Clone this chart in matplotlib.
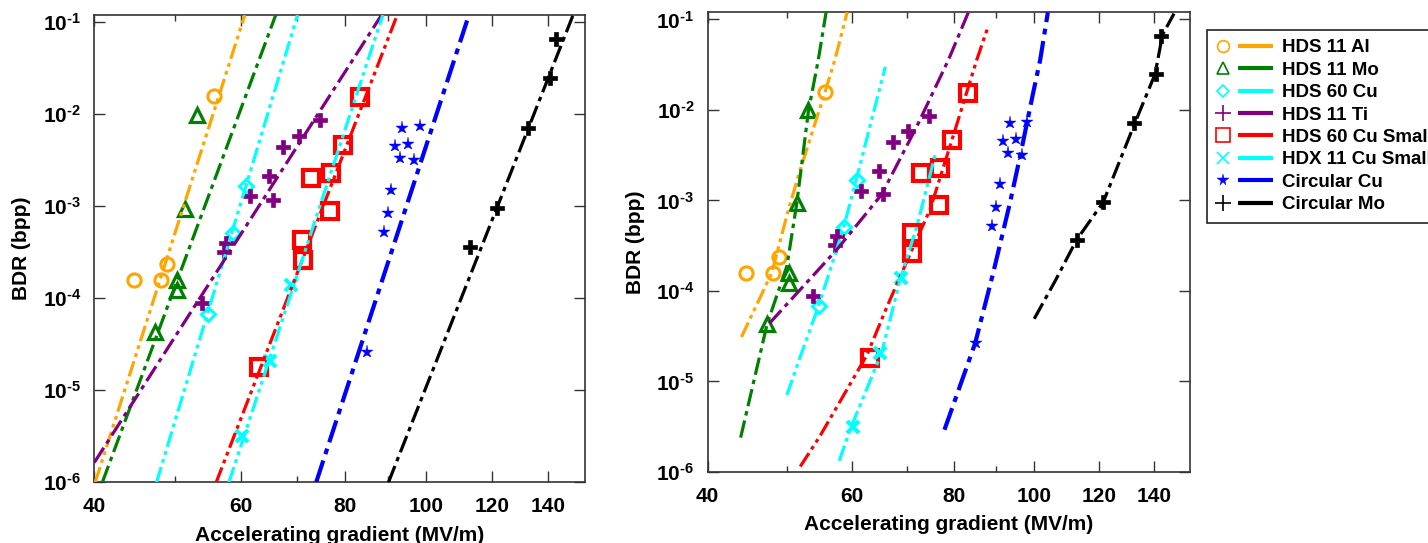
import numpy as np
import matplotlib
matplotlib.use('Agg')
import matplotlib.pyplot as plt
from matplotlib.lines import Line2D
from matplotlib.legend_handler import HandlerBase
from matplotlib.ticker import FixedLocator, FuncFormatter, NullFormatter, NullLocator

plt.rcParams['font.family'] = ['Liberation Sans', 'DejaVu Sans']
plt.rcParams['font.weight'] = 'bold'
plt.rcParams['mathtext.fontset'] = 'custom'
plt.rcParams['mathtext.bf'] = 'Liberation Sans:bold'
plt.rcParams['mathtext.rm'] = 'Liberation Sans:bold'

# ---------------- data ----------------
labels = ['HDS 11 Al', 'HDS 11 Mo', 'HDS 60 Cu', 'HDS 11 Ti',
          'HDS 60 Cu Small', 'HDX 11 Cu Small', 'Circular Cu', 'Circular Mo']

al_x = [44.6, 48.1, 48.9, 55.7]
al_y = [1.58e-4, 1.58e-4, 2.37e-4, 1.59e-2]
mo11_x = [47.3, 50.3, 50.3, 51.4, 53.1]
mo11_y = [4.35e-5, 1.58e-4, 1.23e-4, 9.3e-4, 9.9e-3]
cu60_x = [54.7, 58.6, 60.8]
cu60_y = [6.8e-5, 5.1e-4, 1.67e-3]
ti_x = [53.8, 57.2, 57.6, 61.5, 64.7, 65.5, 67.3, 70.3, 74.5]
ti_y = [8.85e-5, 3.22e-4, 4.04e-4, 1.28e-3, 2.11e-3, 1.18e-3, 4.41e-3, 5.85e-3, 8.6e-3]
cu60s_x = [63.1, 71.0, 71.1, 72.8, 76.8, 76.6, 79.5, 83.2]
cu60s_y = [1.8e-5, 4.32e-4, 2.62e-4, 2.03e-3, 2.3e-3, 9.0e-4, 4.67e-3, 1.54e-2]
hdx_x = [60.1, 65.0, 68.8]
hdx_y = [3.15e-6, 2.08e-5, 1.4e-4]
circu_x = [84.9, 88.9, 89.9, 90.8, 91.8, 92.9, 93.6, 95.0, 96.8, 98.2]
circu_y = [2.63e-5, 5.2e-4, 8.4e-4, 1.51e-3, 4.55e-3, 3.35e-3, 7.1e-3, 4.8e-3, 3.15e-3, 7.4e-3]
cirmo_x = [112.8, 121.5, 132.5, 140.7, 142.9]
cirmo_y = [3.65e-4, 9.6e-4, 7.1e-3, 2.48e-2, 6.6e-2]

# left panel: straight fit lines (end points)
fitL_x = [[40.1, 60.6], [40.9, 66.0], [47.5, 70.1], [40.0, 88.4],
          [56.0, 92.3], [58.0, 88.7], [73.8, 112.5], [90.1, 150.0]]
fitL_y = [[1e-6, 0.12], [1e-6, 0.12], [1e-6, 0.12], [1.64e-6, 0.12],
          [1e-6, 0.12], [1e-6, 0.12], [1e-6, 0.12], [1e-6, 0.12]]

# right panel: curved fits
fitR_x = [
    [44.0, 47.9, 50.2, 51.9, 55.6, 57.2, 59.2],
    [43.9, 46.4, 47.3, 50.0, 51.4, 53.1, 54.6, 55.8],
    [50.0, 51.9, 54.6, 58.6, 60.8, 65.9],
    [47.6, 57.5, 65.2, 72.0, 78.7, 83.2],
    [51.9, 54.8, 62.6, 66.2, 71.3, 74.7, 79.8, 85.2, 88.0],
    [57.9, 59.8, 65.2, 68.7, 72.0, 75.8],
    [77.8, 84.8, 89.2, 93.5, 96.2, 99.8, 101.8, 104.0],
    [100.1, 106.2, 112.7, 121.5, 132.8, 140.5, 143.5, 148.2],
]
fitR_y = [
    [3.1e-5, 1.58e-4, 7.9e-4, 2.19e-3, 1.55e-2, 3.6e-2, 0.12],
    [2.4e-6, 2.06e-5, 4.35e-5, 1.9e-4, 9.4e-4, 9.7e-3, 3.6e-2, 0.12],
    [7.1e-6, 1.88e-5, 6.7e-5, 4.96e-4, 1.77e-3, 3.0e-2],
    [4.4e-5, 2.86e-4, 1.16e-3, 6.6e-3, 3.6e-2, 0.12],
    [1.15e-6, 2.46e-6, 1.97e-5, 6.7e-5, 3.1e-4, 7.9e-4, 5.3e-3, 3.6e-2, 8.5e-2],
    [1.33e-6, 3.07e-6, 2.06e-5, 1.33e-4, 5.2e-4, 3.2e-3],
    [2.93e-6, 2.65e-5, 1.58e-4, 9.4e-4, 3.08e-3, 1.55e-2, 3.6e-2, 0.12],
    [4.93e-5, 1.3e-4, 3.65e-4, 9.6e-4, 7.2e-3, 2.48e-2, 6.8e-2, 0.116],
]

xs = [al_x, mo11_x, cu60_x, ti_x, cu60s_x, hdx_x, circu_x, cirmo_x]
ys = [al_y, mo11_y, cu60_y, ti_y, cu60s_y, hdx_y, circu_y, cirmo_y]

x_major = [40, 60, 80, 100, 120, 140]
x_minor = [50, 70, 90]
y_major = [1e-6, 1e-5, 1e-4, 1e-3, 1e-2, 1e-1]

# ---------------- styles ----------------
colors = ['#FFA500', '#008000', '#00FFFF', '#800080', '#FF0000', '#00FFFF', '#0000FF', '#000000']
dd = (0, (5, 1.4, 1.2, 1.4, 1.2, 1.4))
da = (0, (5.5, 1.6, 1.4, 1.6))
lstyles = [dd, da, dd, da, dd, dd, da, da]
lwidths = [2.3, 2.3, 2.3, 2.3, 2.3, 2.3, 3.0, 2.3]
mk_data = [
    dict(marker='o', ms=9.5, mfc='none', mew=2.2),
    dict(marker='^', ms=9.5, mfc='none', mew=2.3),
    dict(marker='D', ms=7.0, mfc='none', mew=2.2),
    dict(marker='P', ms=10.0, mew=0.5),
    dict(marker='s', ms=11.0, mfc='none', mew=3.0),
    dict(marker='x', ms=9.0, mew=3.0),
    dict(marker='*', ms=9.5, mew=0.3),
    dict(marker='P', ms=10.0, mew=0.5),
]
mk_leg = [
    dict(marker='o', ms=8.5, mfc='none', mew=1.2),
    dict(marker='^', ms=8.5, mfc='none', mew=1.2),
    dict(marker='D', ms=6.5, mfc='none', mew=1.2),
    dict(marker='+', ms=11, mew=1.2),
    dict(marker='s', ms=9.5, mfc='none', mew=1.2),
    dict(marker='x', ms=8.5, mew=1.2),
    dict(marker='*', ms=8.5, mew=0.3),
    dict(marker='+', ms=11, mew=1.2),
]

fig = plt.figure(figsize=(14.28, 5.43), dpi=100)
axL = fig.add_axes([94.3 / 1428, 1 - 482.3 / 543, 490.7 / 1428, 467.3 / 543])
axR = fig.add_axes([707.5 / 1428, 1 - 472 / 543, 482.5 / 1428, 459.7 / 543])

HYPHEN = '\u2010'


def ylab(v, p):
    e = int(round(np.log10(v)))
    if e < 0:
        return '$\\mathbf{10^{' + HYPHEN + str(abs(e)) + '}}$'
    return '$\\mathbf{10^{' + str(e) + '}}$'


def style_axes(ax):
    ax.set_xscale('log')
    ax.set_yscale('log')
    ax.set_xlim(40, 155)
    ax.set_ylim(1e-6, 0.12)
    ax.xaxis.set_major_locator(FixedLocator(x_major))
    ax.xaxis.set_minor_locator(FixedLocator(x_minor))
    ax.xaxis.set_major_formatter(FuncFormatter(lambda v, p: f'{v:g}'))
    ax.xaxis.set_minor_formatter(NullFormatter())
    ax.yaxis.set_major_locator(FixedLocator(y_major))
    ax.yaxis.set_minor_locator(NullLocator())
    ax.yaxis.set_major_formatter(FuncFormatter(ylab))
    ax.tick_params(which='both', direction='in', top=True, right=True,
                   width=1.0, color='#333333', labelsize=15)
    ax.tick_params(which='major', length=7.7)
    ax.tick_params(which='minor', length=4.1)
    ax.tick_params(axis='x', pad=10.5)
    ax.tick_params(axis='y', pad=9.5)
    for s in ax.spines.values():
        s.set_color('#333333')
        s.set_linewidth(1.2)
    ax.set_xlabel('Accelerating gradient (MV/m)', fontsize=15, fontweight='bold')
    ax.set_ylabel('BDR (bpp)', fontsize=15, fontweight='bold')
    ax.xaxis.set_label_coords(0.5, -0.0935)
    ax.yaxis.set_label_coords(-0.1296, 0.5)


for ax, fx, fy in [(axL, fitL_x, fitL_y), (axR, fitR_x, fitR_y)]:
    style_axes(ax)
    for i in range(len(labels)):
        ax.plot(xs[i], ys[i], ls='none', color=colors[i], mec=colors[i], zorder=3, **mk_data[i])
    for i in range(len(labels)):
        ax.plot(fx[i], fy[i], color=colors[i], ls=lstyles[i], lw=lwidths[i], zorder=4)


class MarkerThenLine(HandlerBase):
    def create_artists(self, legend, orig_handle, xdescent, ydescent, width, height,
                       fontsize, trans):
        mk, ln = orig_handle
        y = height / 2.0 - ydescent
        m = Line2D([0.112 * width - xdescent], [y])
        m.update_from(mk)
        m.set_transform(trans)
        l = Line2D([0.378 * width - xdescent, width - xdescent], [y, y])
        l.update_from(ln)
        l.set_transform(trans)
        return [m, l]


handles = []
for i in range(len(labels)):
    mh = Line2D([], [], ls='none', color=colors[i], mec=colors[i], **mk_leg[i])
    lh = Line2D([], [], color=colors[i], lw=3.0, solid_capstyle='butt')
    handles.append((mh, lh))

leg = fig.legend(handles, labels, handler_map={tuple: MarkerThenLine()},
                 loc='upper left', bbox_to_anchor=(1207.3 / 1428, 1 - 30 / 543),
                 bbox_transform=fig.transFigure, borderaxespad=0,
                 prop={'size': 13.5, 'weight': 'bold'}, handlelength=3.0,
                 handletextpad=0.48, labelspacing=0.28, borderpad=0.5,
                 frameon=True, fancybox=False, framealpha=1)
leg.get_frame().set_edgecolor('#222222')
leg.get_frame().set_linewidth(1.2)

fig.savefig('out.png', dpi=100)
